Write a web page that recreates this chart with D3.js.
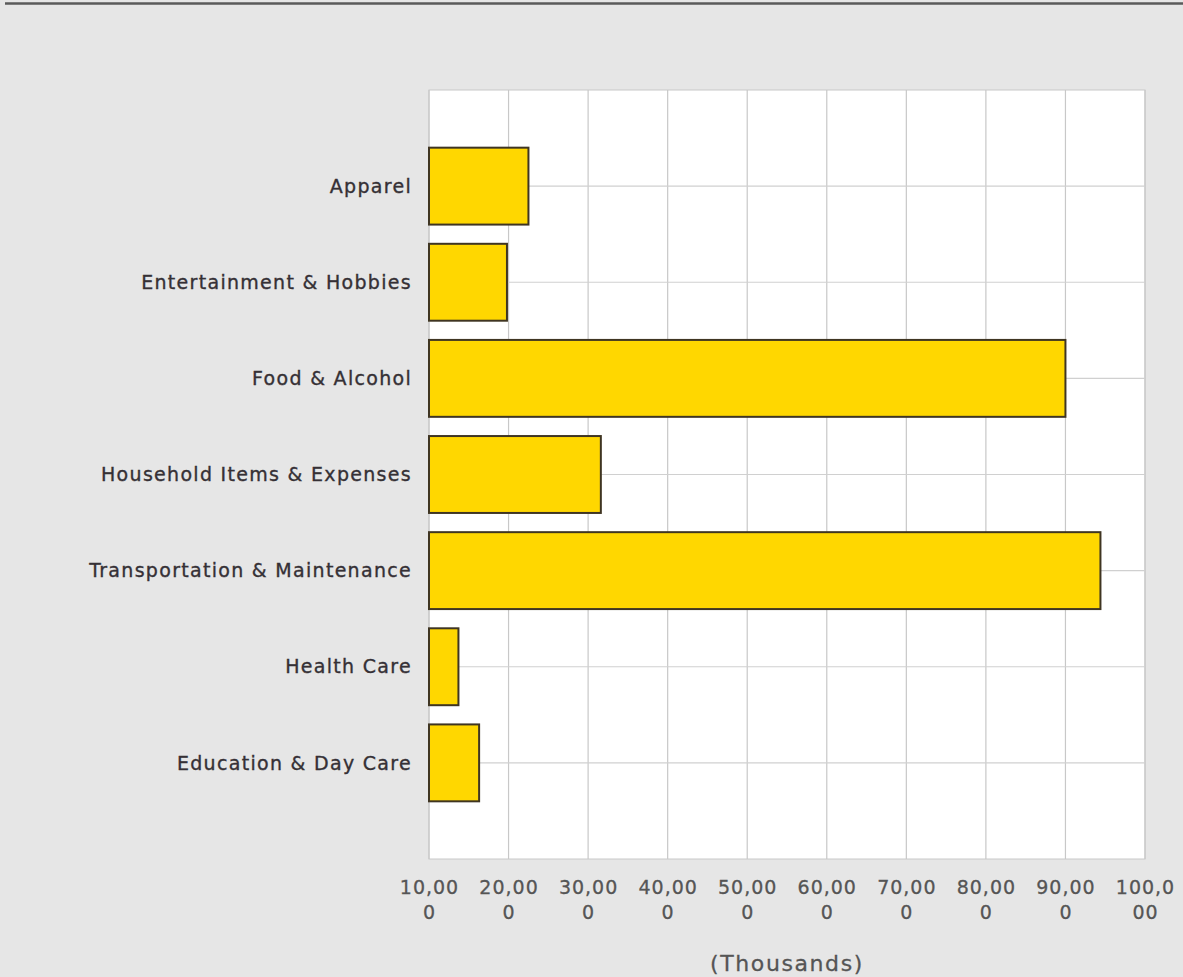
<!DOCTYPE html>
<html><head><meta charset="utf-8">
<script src="https://cdn.jsdelivr.net/npm/d3@7"></script>
<style>
html,body{margin:0;padding:0;background:#e6e6e6;}
svg{display:block;}
</style></head>
<body>
<script>
const categories = ["Apparel","Entertainment & Hobbies","Food & Alcohol","Household Items & Expenses","Transportation & Maintenance","Health Care","Education & Day Care"];
const values = [22500, 19800, 90000, 31600, 94400, 13700, 16300];
const xTicks = [10000,20000,30000,40000,50000,60000,70000,80000,90000,100000];
const axisTitle = "(Thousands)";

const W = 1183, H = 977;
const FONT = "DejaVu Sans, Verdana, sans-serif";
const svg = d3.select("body").append("svg").attr("width", W).attr("height", H);
svg.append("rect").attr("width", W).attr("height", H).attr("fill", "#e6e6e6");
svg.append("line").attr("x1", 5).attr("x2", W).attr("y1", 3.5).attr("y2", 3.5)
  .attr("stroke", "#5a5a5a").attr("stroke-width", 2.5);

const L = 429, R = 1145, T = 90, B = 859;
const x = d3.scaleLinear().domain([10000, 100000]).range([L, R]);
const y = d3.scalePoint().domain(categories).range([T, B]).padding(1);
const barH = y.step() * 0.8;

svg.append("rect").attr("x", L).attr("y", T).attr("width", R - L).attr("height", B - T)
  .attr("fill", "#fff").attr("stroke", "#c8c8c8").attr("stroke-width", 1);

const g = svg.append("g");
g.selectAll("line.vg").data(xTicks).join("line").attr("class","vg")
  .attr("x1", d => x(d)).attr("x2", d => x(d)).attr("y1", T).attr("y2", B)
  .attr("stroke", "#c8c8c8").attr("stroke-width", 1.2);
g.selectAll("line.hg").data(categories).join("line").attr("class","hg")
  .attr("x1", L).attr("x2", R).attr("y1", d => y(d)).attr("y2", d => y(d))
  .attr("stroke", "#d0d0d0").attr("stroke-width", 1.2);

g.selectAll("rect.bar").data(categories).join("rect").attr("class","bar")
  .attr("x", x(10000)).attr("y", d => y(d) - barH/2)
  .attr("width", (d,i) => x(values[i]) - x(10000)).attr("height", barH)
  .attr("fill", "#ffd700").attr("stroke", "#3f3522").attr("stroke-width", 2);

// category labels
svg.selectAll("text.cat").data(categories).join("text").attr("class","cat")
  .attr("x", 412).attr("y", d => y(d)).attr("dy", "0.35em")
  .attr("text-anchor", "end").attr("fill", "#353035")
  .attr("stroke", "#353035").attr("stroke-width", 0.35)
  .attr("font-family", FONT).attr("font-size", 19).attr("letter-spacing", 1.3)
  .text(d => d);

// x tick labels (wrapped)
const fmt = d3.format(",");
const tl = svg.selectAll("text.tick").data(xTicks).join("text").attr("class","tick")
  .attr("x", d => x(d)).attr("y", 894).attr("text-anchor", "middle").attr("fill", "#555")
  .attr("stroke", "#555").attr("stroke-width", 0.3)
  .attr("font-family", FONT).attr("font-size", 19).attr("letter-spacing", 1);
tl.append("tspan").attr("x", d => x(d) + 0.5).text(d => fmt(d).slice(0,5));
tl.append("tspan").attr("x", d => x(d) + 0.5).attr("dy", 25).text(d => fmt(d).slice(5));

svg.append("text").attr("x", (L + R)/2).attr("y", 971).attr("text-anchor", "middle")
  .attr("fill", "#555").attr("stroke", "#555").attr("stroke-width", 0.3)
  .attr("font-family", FONT)
  .attr("font-size", 22).attr("letter-spacing", 1.6).text(axisTitle);
</script>
</body></html>
